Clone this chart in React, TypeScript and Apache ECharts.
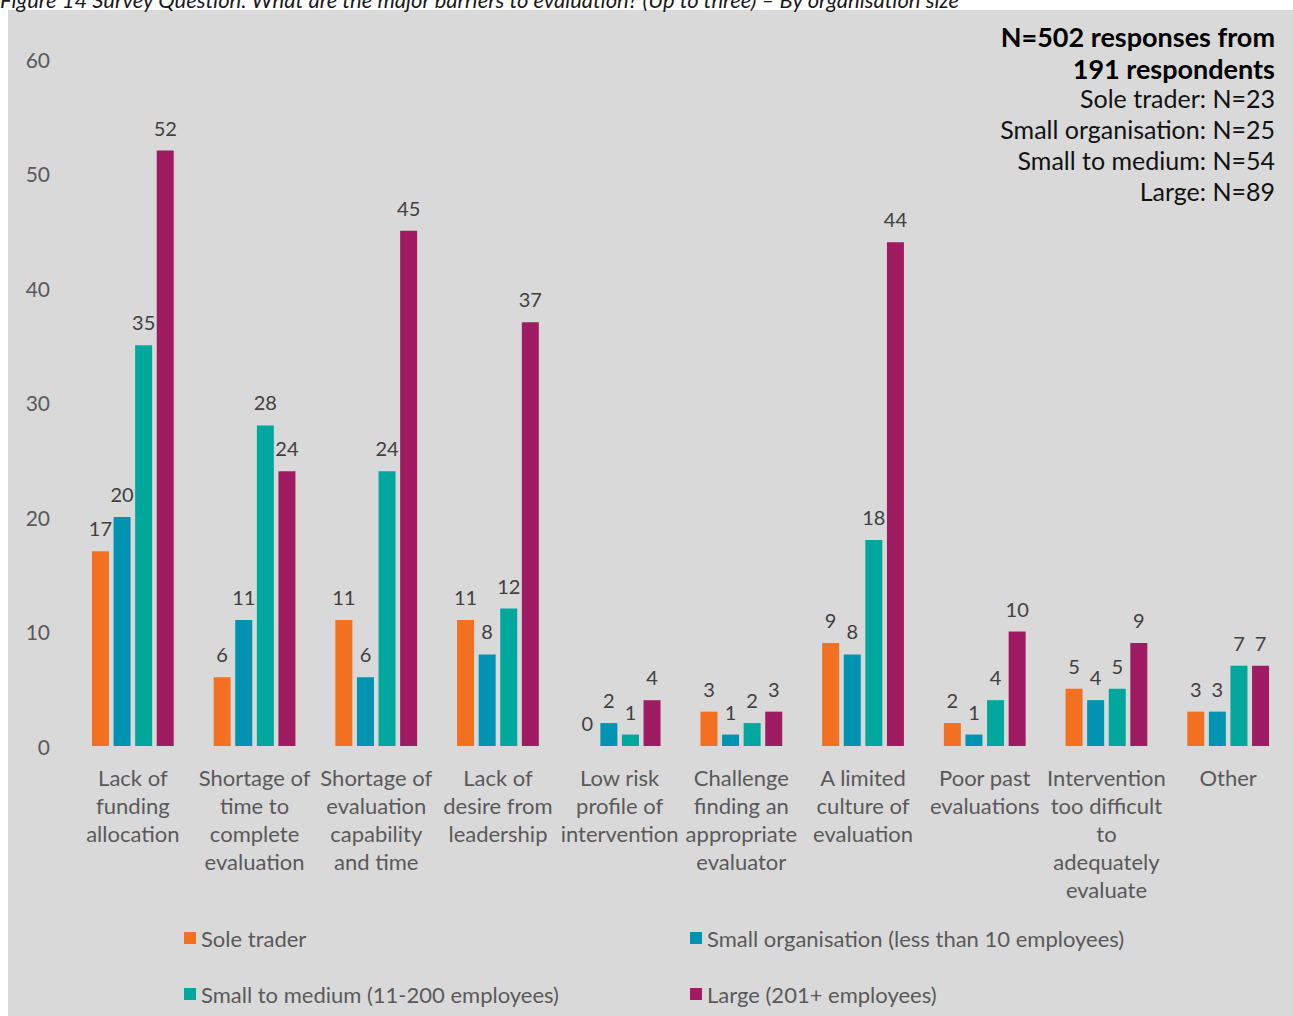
import React, { useEffect, useRef } from "react";
import * as echarts from "echarts";

const categories = [
  "Lack of\nfunding\nallocation",
  "Shortage of\ntime to\ncomplete\nevaluation",
  "Shortage of\nevaluation\ncapability\nand time",
  "Lack of\ndesire from\nleadership",
  "Low risk\nprofile of\nintervention",
  "Challenge\nfinding an\nappropriate\nevaluator",
  "A limited\nculture of\nevaluation",
  "Poor past\nevaluations",
  "Intervention\ntoo difficult\nto\nadequately\nevaluate",
  "Other",
];

const seriesNames = [
  "Sole trader",
  "Small organisation (less than 10 employees)",
  "Small to medium (11-200 employees)",
  "Large (201+ employees)",
];

const soleTrader = [17, 6, 11, 11, 0, 3, 9, 2, 5, 3];
const smallOrg = [20, 11, 6, 8, 2, 1, 8, 1, 4, 3];
const smallToMedium = [35, 28, 24, 12, 1, 2, 18, 4, 5, 7];
const large = [52, 24, 45, 37, 4, 3, 44, 10, 9, 7];

const colors = ["#F37021", "#0093B2", "#00A79D", "#A01C62"];

const yTicks = [0, 60, 10]; // min, max, interval

const caption =
  "Figure 14 Survey Question: What are the major barriers to evaluation? (Up to three) \u2013 By organisation size";
const noteBold = ["N=502 responses from", "191 respondents"];
const noteLines = [
  "Sole trader: N=23",
  "Small organisation: N=25",
  "Small to medium: N=54",
  "Large: N=89",
];

const FONT = "Lato, 'Open Sans', sans-serif";

export default function App() {
  const ref = useRef<HTMLDivElement>(null);
  useEffect(() => {
    if (!ref.current) return;
    const chart = echarts.init(ref.current, undefined, { renderer: "svg" });
    const values = [soleTrader, smallOrg, smallToMedium, large];
    const legendPos = [
      { left: 184, top: 927 },
      { left: 690, top: 927 },
      { left: 184, top: 983 },
      { left: 690, top: 983 },
    ];
    const option: any = {
      animation: false,
      backgroundColor: "#ffffff",
      textStyle: { fontFamily: FONT },
      graphic: [
        {
          type: "rect",
          shape: { x: 8, y: 10, width: 1285, height: 1006 },
          style: { fill: "#D9D9D9" },
          z: -10,
          silent: true,
        },
        {
          type: "text",
          x: 0,
          y: 10,
          style: {
            text: caption,
            fontFamily: FONT,
            fontStyle: "italic",
            fontSize: 22,
            fill: "#1a1a1a",
            verticalAlign: "bottom",
          },
        },
        ...noteBold.map((t, i) => ({
          type: "text",
          x: 1275,
          y: 36 + i * 32,
          style: {
            text: t,
            fontFamily: FONT,
            fontWeight: "bold",
            fontSize: 27,
            fill: "#000",
            align: "right",
            verticalAlign: "middle",
          },
        })),
        ...noteLines.map((t, i) => ({
          type: "text",
          x: 1275,
          y: 98 + i * 31,
          style: {
            text: t,
            fontFamily: FONT,
            fontSize: 25,
            fill: "#111",
            align: "right",
            verticalAlign: "middle",
          },
        })),
      ],
      legend: seriesNames.map((n, i) => ({
        data: [n],
        left: legendPos[i].left,
        top: legendPos[i].top,
        icon: "rect",
        itemWidth: 12,
        itemHeight: 12,
        padding: 0,
        textStyle: { fontSize: 22, color: "#595959", fontFamily: FONT },
      })),
      grid: {
        left: 72,
        right: 4,
        top: 59,
        bottom: 270,
        containLabel: false,
        outerBoundsMode: "none",
      },
      xAxis: {
        type: "category",
        data: categories,
        axisLine: { show: false },
        axisTick: { show: false },
        axisLabel: {
          interval: 0,
          margin: 17,
          fontSize: 22,
          lineHeight: 28,
          color: "#595959",
          fontFamily: FONT,
        },
      },
      yAxis: {
        type: "value",
        min: yTicks[0],
        max: yTicks[1],
        interval: yTicks[2],
        axisLine: { show: false },
        axisTick: { show: false },
        splitLine: { show: false },
        axisLabel: {
          margin: 22,
          fontSize: 21,
          color: "#595959",
          fontFamily: FONT,
        },
      },
      series: seriesNames.map((n, i) => ({
        name: n,
        type: "bar",
        data: values[i],
        barWidth: 17,
        barGap: "27%",
        itemStyle: { color: colors[i] },
        label: {
          show: true,
          position: "top",
          distance: 13,
          fontSize: 20,
          color: "#404040",
          fontFamily: FONT,
        },
      })),
    };
    chart.setOption(option);
    return () => chart.dispose();
  }, []);
  return (
    <div
      ref={ref}
      style={{ position: "absolute", left: 0, top: 0, width: 1293, height: 1016 }}
    />
  );
}
